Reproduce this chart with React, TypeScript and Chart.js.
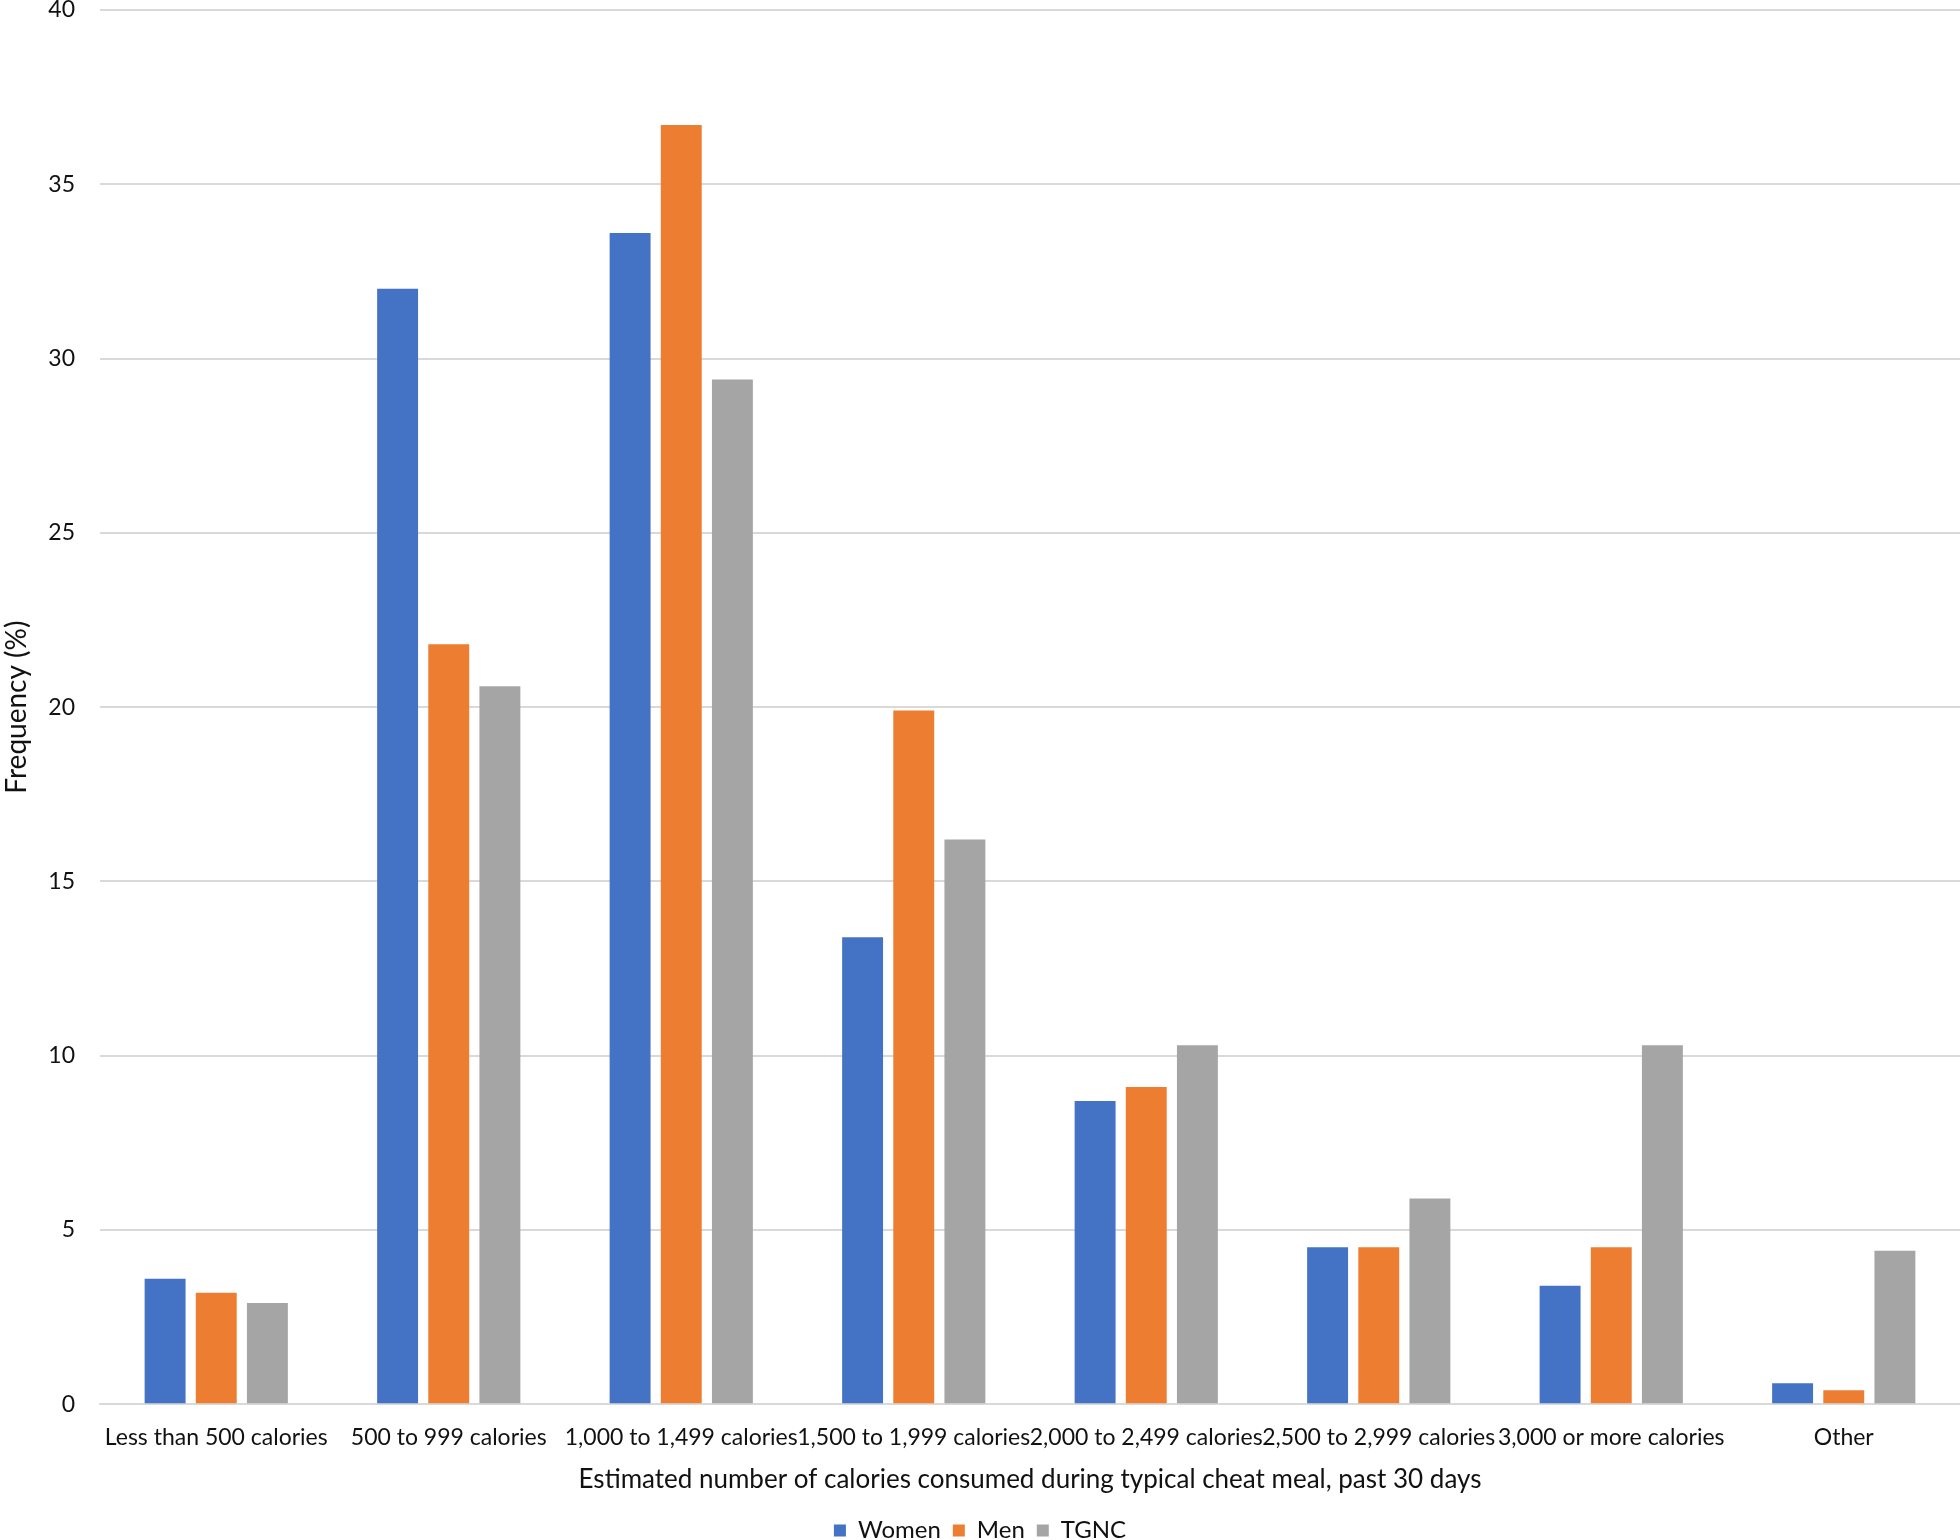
import React, { useEffect, useRef } from 'react';
import { Chart, registerables } from 'chart.js';

Chart.register(...registerables);

const categories = [
  'Less than 500 calories',
  '500 to 999 calories',
  '1,000 to 1,499 calories',
  '1,500 to 1,999 calories',
  '2,000 to 2,499 calories',
  '2,500 to 2,999 calories',
  '3,000 or more calories',
  'Other',
];
const women = [3.6, 32.0, 33.6, 13.4, 8.7, 4.5, 3.4, 0.6];
const men = [3.2, 21.8, 36.7, 19.9, 9.1, 4.5, 4.5, 0.4];
const tgnc = [2.9, 20.6, 29.4, 16.2, 10.3, 5.9, 10.3, 4.4];
const seriesNames = ['Women', 'Men', 'TGNC'];
const yMin = 0;
const yMax = 40;
const yStep = 5;
const xTitle = 'Estimated number of calories consumed during typical cheat meal, past 30 days';
const yTitle = 'Frequency (%)';

const FONT = 'Lato';

export default function App() {
  const ref = useRef<HTMLCanvasElement>(null);
  useEffect(() => {
    document.body.style.margin = '0';
    const chart = new Chart(ref.current!, {
      type: 'bar',
      data: {
        labels: categories,
        datasets: [
          { label: seriesNames[0], data: women, backgroundColor: '#4472C4' },
          { label: seriesNames[1], data: men, backgroundColor: '#ED7D31' },
          { label: seriesNames[2], data: tgnc, backgroundColor: '#A5A5A5' },
        ],
      },
      options: {
        responsive: true,
        maintainAspectRatio: false,
        animation: false,
        layout: { padding: { top: 0, left: 0, right: 0, bottom: -12.5 } },
        datasets: { bar: { categoryPercentage: 0.66, barPercentage: 0.8 } },
        scales: {
          x: {
            grid: { display: false, drawTicks: false },
            border: { display: true, color: '#D9D9D9', width: 2 },
            ticks: {
              autoSkip: false,
              maxRotation: 0,
              minRotation: 0,
              padding: 20,
              color: '#111',
              font: { family: FONT, size: 23 },
            },
            title: {
              display: true,
              text: xTitle,
              color: '#111',
              font: { family: FONT, size: 26 },
              padding: { top: -8, bottom: 11.5 },
            },
          },
          y: {
            min: yMin,
            max: yMax,
            grid: { color: '#D9D9D9', lineWidth: 2, drawTicks: false },
            border: { display: false },
            ticks: {
              stepSize: yStep,
              padding: 25,
              color: '#111',
              font: { family: FONT, size: 23 },
            },
            title: {
              display: true,
              text: yTitle,
              color: '#111',
              font: { family: FONT, size: 28 },
              padding: 0,
            },
            afterFit: (scale: any) => {
              scale.width = 100;
              scale.paddingTop = 10;
              scale.paddingBottom = 10;
            },
          },
        },
        plugins: {
          legend: {
            position: 'bottom',
            labels: {
              boxWidth: 12,
              boxHeight: 12,
              padding: 12,
              color: '#111',
              font: { family: FONT, size: 24 },
            },
          },
          tooltip: { enabled: false },
        },
      },
    });
    return () => chart.destroy();
  }, []);
  return (
    <div style={{ width: 1960, height: 1540, position: 'relative' }}>
      <canvas ref={ref} />
    </div>
  );
}
